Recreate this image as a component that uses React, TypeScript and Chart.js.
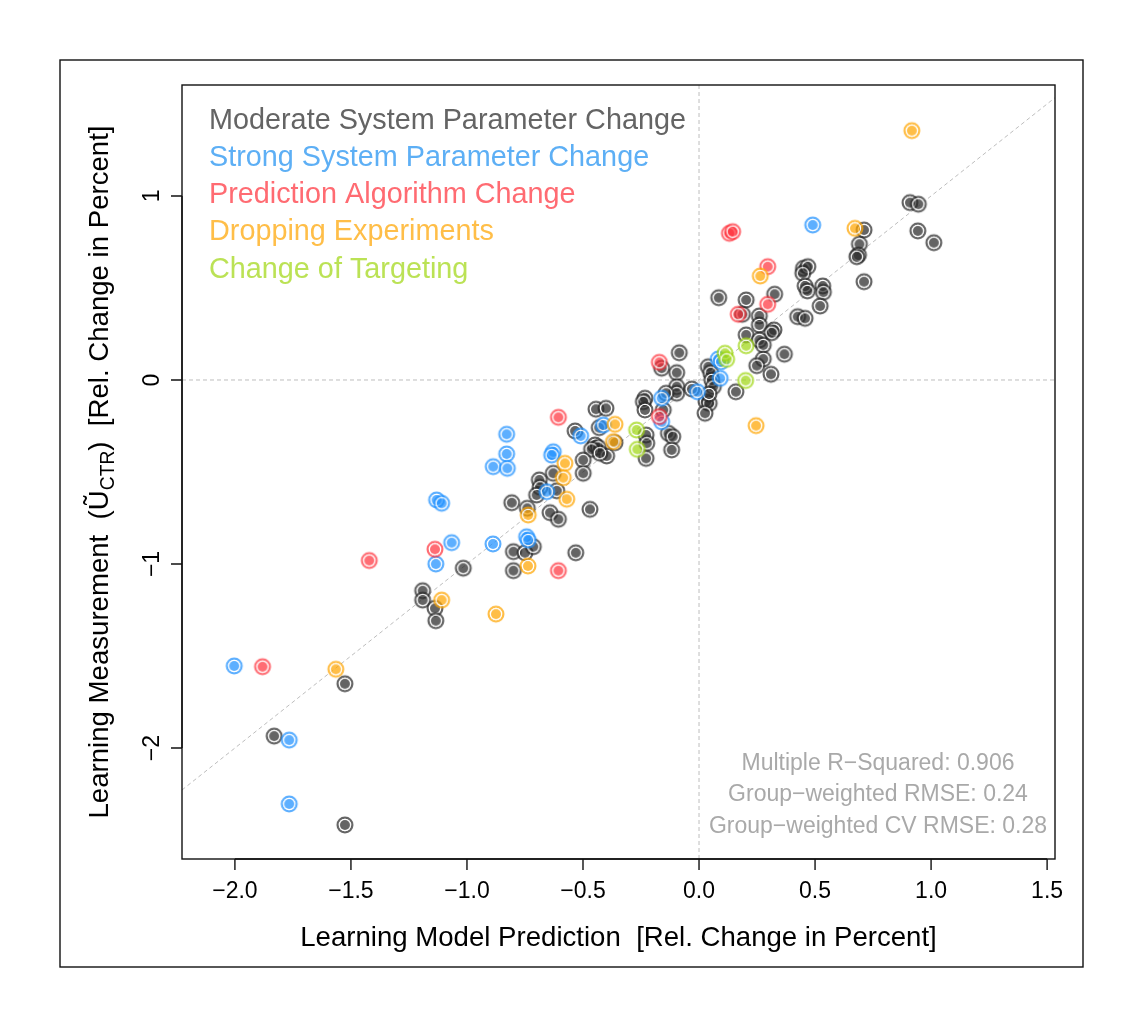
import React, { useEffect, useRef } from 'react';
import { Chart, registerables } from 'chart.js';

Chart.register(...registerables);

// ---------- data ----------
const X_TICKS = [-2.0, -1.5, -1.0, -0.5, 0.0, 0.5, 1.0, 1.5];
const Y_TICKS = [-2, -1, 0, 1];
const X_RANGE = [-2.228, 1.534];
const Y_RANGE = [-2.603, 1.603];

const SERIES_NAMES = [
  'Moderate System Parameter Change',
  'Strong System Parameter Change',
  'Prediction Algorithm Change',
  'Dropping Experiments',
  'Change of Targeting',
];

const MODERATE_X = [0.909, 0.945, 0.943, 1.012, 0.711, 0.691, 0.687, 0.680, 0.711, 0.450, 0.469, 0.447, 0.457, 0.467, 0.533, 0.536, 0.522, 0.085, 0.203, 0.326, 0.187, 0.260, 0.260, 0.425, 0.457, 0.323, 0.313, 0.203, 0.260, 0.277, 0.368, 0.277, 0.249, 0.310, 0.040, 0.050, 0.055, 0.062, 0.159, -0.031, 0.030, 0.044, 0.026, 0.043, -0.085, -0.161, -0.096, -0.096, -0.096, -0.233, -0.240, -0.233, -0.142, -0.154, -0.132, -0.113, -0.118, -0.228, -0.225, -0.228, -0.444, -0.401, -0.430, -0.534, -0.448, -0.434, -0.463, -0.398, -0.427, -0.362, -0.499, -0.499, -0.470, -0.628, -0.688, -0.685, -0.700, -0.613, -0.642, -0.606, -0.807, -0.740, -0.800, -0.750, -0.714, -0.800, -0.531, -1.016, -1.191, -1.191, -1.138, -1.134, -1.526, -1.831, -1.526];
const MODERATE_Y = [0.964, 0.955, 0.810, 0.746, 0.815, 0.738, 0.679, 0.670, 0.534, 0.607, 0.616, 0.580, 0.511, 0.484, 0.511, 0.477, 0.402, 0.447, 0.435, 0.466, 0.357, 0.348, 0.299, 0.344, 0.335, 0.272, 0.257, 0.245, 0.217, 0.190, 0.140, 0.114, 0.078, 0.031, 0.072, 0.040, 0.000, -0.036, -0.064, -0.049, -0.118, -0.127, -0.181, -0.076, 0.148, 0.064, 0.040, -0.036, -0.072, -0.099, -0.118, -0.163, -0.072, -0.163, -0.290, -0.308, -0.380, -0.299, -0.344, -0.426, -0.159, -0.154, -0.259, -0.277, -0.353, -0.366, -0.377, -0.413, -0.398, -0.341, -0.435, -0.507, -0.703, -0.507, -0.543, -0.583, -0.625, -0.602, -0.721, -0.757, -0.667, -0.697, -0.933, -0.939, -0.906, -1.036, -0.939, -1.023, -1.145, -1.196, -1.241, -1.308, -1.651, -1.935, -2.418];

const STRONG_X = [0.490, 0.083, 0.095, 0.091, -0.007, -0.161, -0.161, -0.412, -0.510, -0.628, -0.635, -0.656, -0.829, -0.829, -0.887, -0.826, -1.131, -1.109, -1.066, -1.134, -0.888, -0.743, -0.736, -2.003, -1.766, -1.766];
const STRONG_Y = [0.842, 0.114, 0.099, 0.009, -0.064, -0.099, -0.227, -0.245, -0.304, -0.390, -0.408, -0.607, -0.295, -0.402, -0.471, -0.480, -0.652, -0.670, -0.884, -1.000, -0.891, -0.852, -0.870, -1.554, -1.957, -2.304];

const PREDICTION_X = [0.131, 0.145, 0.296, 0.296, 0.169, -0.171, -0.171, -0.606, -1.138, -0.606, -1.421, -1.881];
const PREDICTION_Y = [0.797, 0.806, 0.616, 0.411, 0.357, 0.096, -0.199, -0.203, -0.920, -1.036, -0.981, -1.558];

const DROPPING_X = [0.917, 0.672, 0.264, 0.246, -0.362, -0.369, -0.578, -0.585, -0.570, -0.736, -0.737, -1.109, -0.875, -1.565];
const DROPPING_Y = [1.355, 0.824, 0.565, -0.248, -0.241, -0.335, -0.453, -0.531, -0.648, -0.734, -1.011, -1.196, -1.272, -1.572];

const TARGETING_X = [0.112, 0.119, 0.203, 0.201, -0.269, -0.266];
const TARGETING_Y = [0.145, 0.112, 0.186, -0.003, -0.272, -0.377];

const STATS_LINES = [
  'Multiple R\u2212Squared: 0.906',
  'Group\u2212weighted RMSE: 0.24',
  'Group\u2212weighted CV RMSE: 0.28',
];

const X_TITLE = 'Learning Model Prediction  [Rel. Change in Percent]';

// ---------- styles ----------
const FONT = '"Liberation Sans", Arial, Helvetica, sans-serif';
const POINT_COLORS = [
  'rgba(40,40,40,0.72)',
  'rgba(30,144,255,0.72)',
  'rgba(255,40,50,0.68)',
  'rgba(255,165,0,0.72)',
  'rgba(160,215,20,0.72)',
];
const TEXT_COLORS = ['#646464', '#5daff5', '#ff6b72', '#ffbe48', '#bbe255'];

function makeMarker(color: string): HTMLCanvasElement {
  const c = document.createElement('canvas');
  c.width = 20;
  c.height = 20;
  const g = c.getContext('2d') as CanvasRenderingContext2D;
  g.lineWidth = 2.3;
  g.strokeStyle = color;
  g.beginPath();
  g.arc(10, 10, 7.35, 0, Math.PI * 2);
  g.stroke();
  g.lineWidth = 1.2;
  g.strokeStyle = '#ffffff';
  g.beginPath();
  g.arc(10, 10, 5.6, 0, Math.PI * 2);
  g.stroke();
  g.fillStyle = color;
  g.beginPath();
  g.arc(10, 10, 5.0, 0, Math.PI * 2);
  g.fill();
  return c;
}

const toPoints = (xs: number[], ys: number[]) => xs.map((x, i) => ({ x, y: ys[i] }));
const fmt = (s: string) => s.replace('-', '\u2212');

const decorPlugin = {
  id: 'decor',
  afterDraw(chart: any) {
    const ctx: CanvasRenderingContext2D = chart.ctx;
    const { left, right, top, bottom } = chart.chartArea;
    const xs = chart.scales.x;
    const ys = chart.scales.y;
    ctx.save();
    ctx.strokeStyle = '#111';
    ctx.lineWidth = 1.4;
    // figure box & plot box
    ctx.strokeRect(60, 60, 1023, 907);
    ctx.strokeRect(left, top, right - left, bottom - top);

    // x axis
    ctx.beginPath();
    ctx.moveTo(xs.getPixelForValue(X_TICKS[0]), bottom);
    ctx.lineTo(xs.getPixelForValue(X_TICKS[X_TICKS.length - 1]), bottom);
    X_TICKS.forEach((v) => {
      const p = xs.getPixelForValue(v);
      ctx.moveTo(p, bottom);
      ctx.lineTo(p, bottom + 11);
    });
    // y axis
    ctx.moveTo(left, ys.getPixelForValue(Y_TICKS[0]));
    ctx.lineTo(left, ys.getPixelForValue(Y_TICKS[Y_TICKS.length - 1]));
    Y_TICKS.forEach((v) => {
      const p = ys.getPixelForValue(v);
      ctx.moveTo(left, p);
      ctx.lineTo(left - 11, p);
    });
    ctx.stroke();

    ctx.fillStyle = '#000';
    ctx.font = `23px ${FONT}`;
    ctx.textAlign = 'center';
    ctx.textBaseline = 'alphabetic';
    X_TICKS.forEach((v) => {
      ctx.fillText(fmt(v.toFixed(1)), xs.getPixelForValue(v), bottom + 39);
    });
    Y_TICKS.forEach((v) => {
      ctx.save();
      ctx.translate(left - 23, ys.getPixelForValue(v));
      ctx.rotate(-Math.PI / 2);
      ctx.fillText(fmt(String(v)), 0, 0);
      ctx.restore();
    });

    // axis titles
    ctx.font = `27.6px ${FONT}`;
    ctx.fillText(X_TITLE, (left + right) / 2, bottom + 87);

    ctx.save();
    ctx.translate(left - 74, (top + bottom) / 2);
    ctx.rotate(-Math.PI / 2);
    const big = `27.6px ${FONT}`;
    const small = `19.3px ${FONT}`;
    const parts = [
      { t: 'Learning Measurement  (', f: big, dy: 0 },
      { t: '\u0168', f: big, dy: 0 },
      { t: 'CTR', f: small, dy: 6 },
      { t: ')  [Rel. Change in Percent]', f: big, dy: 0 },
    ];
    let total = 0;
    parts.forEach((p) => {
      ctx.font = p.f;
      total += ctx.measureText(p.t).width;
    });
    let cx = -total / 2;
    ctx.textAlign = 'left';
    parts.forEach((p) => {
      ctx.font = p.f;
      ctx.fillText(p.t, cx, p.dy);
      cx += ctx.measureText(p.t).width;
    });
    ctx.restore();

    // legend text
    ctx.font = `28.8px ${FONT}`;
    ctx.textAlign = 'left';
    SERIES_NAMES.forEach((name, i) => {
      ctx.fillStyle = TEXT_COLORS[i];
      ctx.fillText(name, left + 27, top + 44 + i * 37.15);
    });

    // stats
    ctx.font = `23px ${FONT}`;
    ctx.textAlign = 'center';
    ctx.fillStyle = '#a9a9a9';
    STATS_LINES.forEach((s, i) => {
      ctx.fillText(s, right - 177, bottom - 89.5 + i * 31.5);
    });
    ctx.restore();
  },
};

export default function App() {
  const ref = useRef<HTMLCanvasElement>(null);
  useEffect(() => {
    const canvas = ref.current;
    if (!canvas) return;
    const seriesX = [MODERATE_X, STRONG_X, PREDICTION_X, DROPPING_X, TARGETING_X];
    const seriesY = [MODERATE_Y, STRONG_Y, PREDICTION_Y, DROPPING_Y, TARGETING_Y];
    const refLine = (data: { x: number; y: number }[]) => ({
      data,
      showLine: true,
      borderColor: '#bdbdbd',
      borderWidth: 1,
      borderDash: [4, 3],
      pointRadius: 0,
      fill: false,
      order: 20,
    });
    const pointSets = SERIES_NAMES.map((name, i) => ({
      label: name,
      data: toPoints(seriesX[i], seriesY[i]),
      pointStyle: makeMarker(POINT_COLORS[i]),
      pointRadius: 8.5,
      pointHoverRadius: 8.5,
      showLine: false,
      order: i === 0 ? 10 : 5 - i,
    }));
    const chart = new Chart(canvas, {
      type: 'scatter',
      data: {
        datasets: [
          refLine([{ x: X_RANGE[0], y: X_RANGE[0] }, { x: X_RANGE[1], y: X_RANGE[1] }]),
          refLine([{ x: X_RANGE[0], y: 0 }, { x: X_RANGE[1], y: 0 }]),
          refLine([{ x: 0, y: Y_RANGE[0] }, { x: 0, y: Y_RANGE[1] }]),
          ...pointSets,
        ] as any,
      },
      options: {
        animation: false,
        responsive: false,
        devicePixelRatio: 1,
        layout: { padding: { left: 182, right: 88, top: 85, bottom: 168 } },
        scales: {
          x: { type: 'linear', display: false, min: X_RANGE[0], max: X_RANGE[1] },
          y: { type: 'linear', display: false, min: Y_RANGE[0], max: Y_RANGE[1] },
        },
        plugins: { legend: { display: false }, tooltip: { enabled: false } },
        events: [],
      },
      plugins: [decorPlugin],
    } as any);
    return () => chart.destroy();
  }, []);
  return (
    <div style={{ position: 'absolute', left: 0, top: 0, width: 1143, height: 1027, background: '#fff' }}>
      <canvas ref={ref} width={1143} height={1027} style={{ display: 'block', width: 1143, height: 1027 }} />
    </div>
  );
}
